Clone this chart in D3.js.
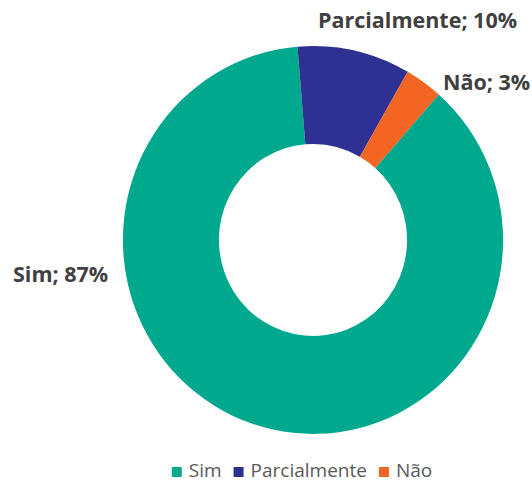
<!DOCTYPE html>
<html>
<head>
<meta charset="utf-8">
<script src="https://cdn.jsdelivr.net/npm/d3@7"></script>
<style>
  body { margin: 0; background: #fff; }
  svg { display: block; }
</style>
</head>
<body>
<script>
const categories = ['Sim', 'Parcialmente', 'Não'];
const values = [87.2, 9.6, 3.2];
const colors = ['#00a88e', '#2e3192', '#f26522'];

const width = 532;
const height = 484;

const svg = d3.select('body')
  .append('svg')
    .attr('width', width)
    .attr('height', height);

const data = categories.map((c, i) => ({ name: c, value: values[i], color: colors[i] }));

// first slice starts at about 41 degrees, like the source chart
const start = 41.4 * Math.PI / 180;
const pie = d3.pie()
  .sort(null)
  .value(d => d.value)
  .startAngle(start)
  .endAngle(start + 2 * Math.PI);

const arc = d3.arc()
  .innerRadius(95)
  .outerRadius(192);

const donut = svg
  .append('g')
    .attr('transform', 'translate(313, 240) scale(0.99, 1.01)');

donut.selectAll('path')
  .data(pie(data))
  .enter()
  .append('path')
    .attr('d', arc)
    .attr('fill', d => d.data.color);

// label spots (start of text, baseline)
const labelPos = {
  'Sim': [13, 282],
  'Parcialmente': [318, 28],
  'Não': [443, 90],
};

const total = d3.sum(values);
svg.selectAll('.dataLabel')
  .data(data)
  .enter()
  .append('text')
    .attr('class', 'dataLabel')
    .attr('x', d => labelPos[d.name][0])
    .attr('y', d => labelPos[d.name][1])
    .attr('font-family', 'Open Sans')
    .attr('font-weight', 'bold')
    .attr('font-size', 21.5)
    .style('fill', '#404040')
    .text(d => `${d.name}; ${Math.round(d.value / total * 100)}%`);

// legend
const legend = svg
  .append('g')
    .attr('class', 'legend');

let x = 0;
data.forEach((d) => {
  const item = legend.append('g')
    .attr('transform', `translate(${x}, 0)`);
  item.append('rect')
    .attr('x', 0)
    .attr('y', -10)
    .attr('width', 10)
    .attr('height', 10)
    .attr('fill', d.color);
  const t = item.append('text')
    .attr('x', 17)
    .attr('y', 0)
    .attr('font-family', 'Open Sans')
    .attr('font-size', 19)
    .style('fill', '#595959')
    .text(d.name);
  x += 17 + t.node().getComputedTextLength() + 12;
});
const legendWidth = x - 12;
legend.attr('transform', `translate(${302 - legendWidth / 2}, 477)`);
</script>
</body>
</html>
